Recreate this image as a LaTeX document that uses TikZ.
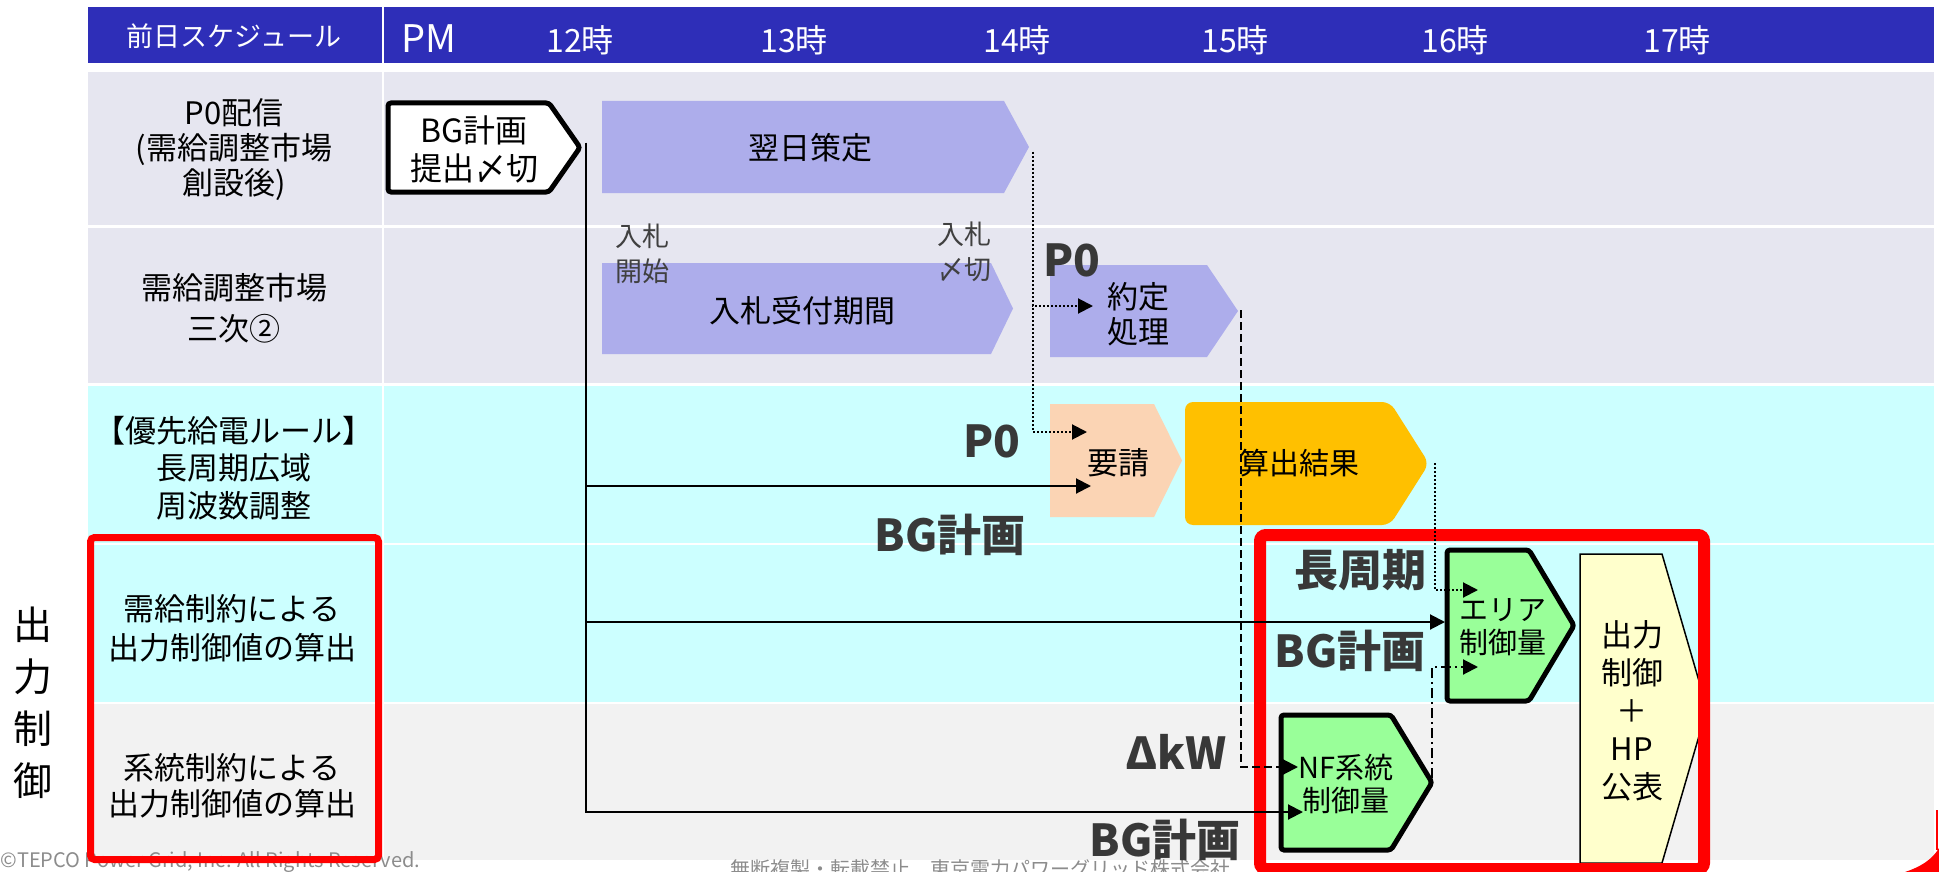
\documentclass[tikz,border=0pt]{standalone}
\usepackage{fontspec}
\setmainfont{Noto Sans CJK JP}
\usetikzlibrary{arrows.meta}
\definecolor{hdrblue}{HTML}{2E2EB8}
\definecolor{rowgray}{HTML}{E6E6F0}
\definecolor{rowcyan}{HTML}{CCFFFF}
\definecolor{rowlight}{HTML}{F2F2F2}
\definecolor{lav}{HTML}{ADADEB}
\definecolor{peach}{HTML}{FBD4B4}
\definecolor{orng}{HTML}{FFC000}
\definecolor{grn}{HTML}{99FF99}
\definecolor{cream}{HTML}{FFFFCC}
\definecolor{labgray}{HTML}{383838}
\definecolor{txtgray}{HTML}{404040}
\definecolor{footgray}{HTML}{8C8C8C}
\definecolor{redframe}{HTML}{FF0000}
\newcommand\hplate[6]{\path[#1] (#2,#3) -- (#4,#3) -- (#5,{(#3+#6)/2}) -- (#4,#6) -- (#2,#6) -- cycle;}
\begin{document}
\begin{tikzpicture}[x=0.5pt,y=-0.5pt,
  hdr/.style={text=white,inner sep=0pt},
  hour/.style={hdr,anchor=base,font=\fontsize{16}{18}\selectfont},
  rowlbl/.style={inner sep=0pt,align=center,font=\fontsize{15.5}{18.5}\selectfont},
  boxtxt/.style={inner sep=0pt,align=center,font=\fontsize{15.5}{19}\selectfont},
  smalltxt/.style={inner sep=0pt,align=center,text=txtgray,font=\fontsize{13.5}{17.5}\selectfont},
  biglbl/.style={inner sep=0pt,text=labgray,font=\bfseries\fontsize{22}{24}\selectfont},
  conn/.style={line width=1pt,-{Triangle[length=7.5pt,width=7.5pt]}},
  dotconn/.style={line width=1pt,dash pattern=on 1pt off 1pt,-{Triangle[length=7.5pt,width=7.5pt]}},
  dashconn/.style={line width=1pt,dash pattern=on 4pt off 2pt,-{Triangle[length=7.5pt,width=7.5pt]}},
  dashdotconn/.style={line width=1pt,dash pattern=on 5pt off 2pt on 1pt off 2pt,-{Triangle[length=7.5pt,width=7.5pt]}},
  thickbox/.style={draw=black,line width=2.5pt,rounded corners=1.5pt},
  foottxt/.style={inner sep=0pt,text=footgray,font=\fontsize{10}{12}\selectfont}
]
\useasboundingbox (0,0) rectangle (1939,872);
\clip (0,0) rectangle (1939,872);
% header
\fill[hdrblue] (88,7) rectangle (382,63);
\fill[hdrblue] (384,7) rectangle (1934,63);
% rows
\fill[rowgray] (88,72) rectangle (382,225);
\fill[rowgray] (384,72) rectangle (1934,225);
\fill[rowgray] (88,228) rectangle (382,383);
\fill[rowgray] (384,228) rectangle (1934,383);
\fill[rowcyan] (88,386) rectangle (382,543);
\fill[rowcyan] (384,386) rectangle (1934,543);
\fill[rowcyan] (88,545) rectangle (382,702);
\fill[rowcyan] (384,545) rectangle (1934,702);
\fill[rowlight] (88,704) rectangle (382,860);
\fill[rowlight] (384,704) rectangle (1934,860);
% footer (partly hidden, as in the original)
\node[foottxt,anchor=north west] (copy) at (0,851) {©TEPCO Power Grid, Inc. All Rights Reserved.};
\node[foottxt,anchor=north] (foot) at (980,859) {無断複製・転載禁止　東京電力パワーグリッド株式会社};
% header texts
\node[hdr,font=\fontsize{13.5}{16}\selectfont] (hd) at (234,36) {前日スケジュール};
\node[hdr,anchor=base west,font=\fontsize{19}{21}\selectfont] (pm) at (401,53) {PM};
\node[hour] (h12) at (580,53) {12時};
\node[hour] (h13) at (794,53) {13時};
\node[hour] (h14) at (1017,53) {14時};
\node[hour] (h15) at (1235,53) {15時};
\node[hour] (h16) at (1455,53) {16時};
\node[hour] (h17) at (1677,53) {17時};
% row labels
\node[rowlbl,font=\fontsize{15.5}{17.5}\selectfont] (r1) at (234,150) {P0配信\\(需給調整市場\\創設後)};
\node[rowlbl,font=\fontsize{15.5}{20.5}\selectfont] (r2) at (234,308) {需給調整市場\\三次②};
\node[rowlbl,font=\fontsize{15.5}{18.75}\selectfont] (r3) at (234,468) {【優先給電ルール】\\長周期広域\\周波数調整};
\node[rowlbl,font=\fontsize{15.5}{19.5}\selectfont] (r4) at (232,628) {需給制約による\\出力制御値の算出};
\node[rowlbl,font=\fontsize{15.5}{18}\selectfont] (r5) at (232,786) {系統制約による\\出力制御値の算出};
\node[inner sep=0pt,align=center,font=\fontsize{19.5}{26}\selectfont] (side) at (33,703) {出\\力\\制\\御};
% boxes
\hplate{fill=white,thickbox}{388}{103}{549}{580}{192}
\node[boxtxt,font=\fontsize{16}{19}\selectfont] (bg) at (474,149) {BG計画\\提出〆切};
\hplate{fill=lav}{602}{101}{1004}{1029}{193}
\node[boxtxt] (yoku) at (810,148) {翌日策定};
\hplate{fill=lav}{602}{263}{991}{1013}{354}
\node[boxtxt] (nyu) at (802,311) {入札受付期間};
\node[smalltxt] (kaishi) at (642,254) {入札\\開始};
\node[smalltxt] (shime) at (964,252) {入札\\〆切};
\hplate{fill=lav}{1050}{265}{1207}{1238}{357}
\node[boxtxt,font=\fontsize{15.5}{17.5}\selectfont] (yakujo) at (1138,314) {約定\\処理};
\hplate{fill=peach}{1050}{404}{1154}{1182}{517}
\node[boxtxt] (yosei) at (1118,463) {要請};
\hplate{fill=orng,rounded corners=4pt}{1185}{402}{1390}{1429}{525}
\node[boxtxt,font=\fontsize{15}{18}\selectfont] (santei) at (1299,463) {算出結果};
\hplate{fill=cream,draw=black,line width=0.75pt}{1580}{554}{1662}{1707}{863}
\node[boxtxt,font=\fontsize{15.5}{19}\selectfont] (out) at (1632,711) {出力\\制御\\＋\\HP\\公表};
\hplate{fill=grn,thickbox}{1447}{550}{1529}{1574}{701}
\node[boxtxt,font=\fontsize{14.5}{16.5}\selectfont] (area) at (1503,627) {エリア\\制御量};
\hplate{fill=grn,thickbox}{1281}{715}{1391}{1432}{850}
\node[boxtxt,font=\fontsize{14.5}{16.5}\selectfont] (nf) at (1346,784) {NF系統\\制御量};
% red frames
\draw[redframe,line width=3.5pt,rounded corners=2pt] (90.5,537.5) rectangle (378.5,859.5);
\draw[redframe,line width=6pt,rounded corners=3pt] (1260,535) rectangle (1704,869);
% bold labels
\node[biglbl] (p0a) at (1072,260) {P0};
\node[biglbl] (p0b) at (992,441) {P0};
\node[biglbl] (bg1) at (950,535) {BG計画};
\node[biglbl] (cho) at (1360,570) {長周期};
\node[biglbl] (bg2) at (1350,651) {BG計画};
\node[biglbl] (dkw) at (1176,752) {ΔkW};
\node[biglbl] (bg3) at (1165,840) {BG計画};
% connector coordinates
\coordinate (vtop) at (586,143);
\coordinate (tYosei) at (1091,486);
\coordinate (tArea) at (1445,622);
\coordinate (tNF) at (1303,812);
\coordinate (d1) at (1033,152);
\coordinate (tYakujo) at (1093,306);
\coordinate (tYosei2) at (1087,432);
\coordinate (d2) at (1241,310);
\coordinate (tNF2) at (1298,767);
\coordinate (d3) at (1435,463);
\coordinate (tArea2) at (1478,590);
\coordinate (d4) at (1432,778);
\coordinate (tArea3) at (1478,667);
% connectors
\draw[conn] (vtop) |- (tYosei);
\draw[conn] (vtop) |- (tArea);
\draw[conn] (vtop) |- (tNF);
\draw[dotconn] (d1) |- (tYakujo);
\draw[dotconn] (d1) |- (tYosei2);
\draw[dashconn] (d2) |- (tNF2);
\draw[dotconn] (d3) |- (tArea2);
\draw[dashdotconn] (d4) |- (tArea3);
% logo fragment
\fill[redframe] (1905,872) .. controls (1920,867) and (1932,860) .. (1939,848) -- (1939,872) -- cycle;
\draw[redframe,line width=1pt] (1937,810) -- (1937,850);
\end{tikzpicture}
\end{document}
